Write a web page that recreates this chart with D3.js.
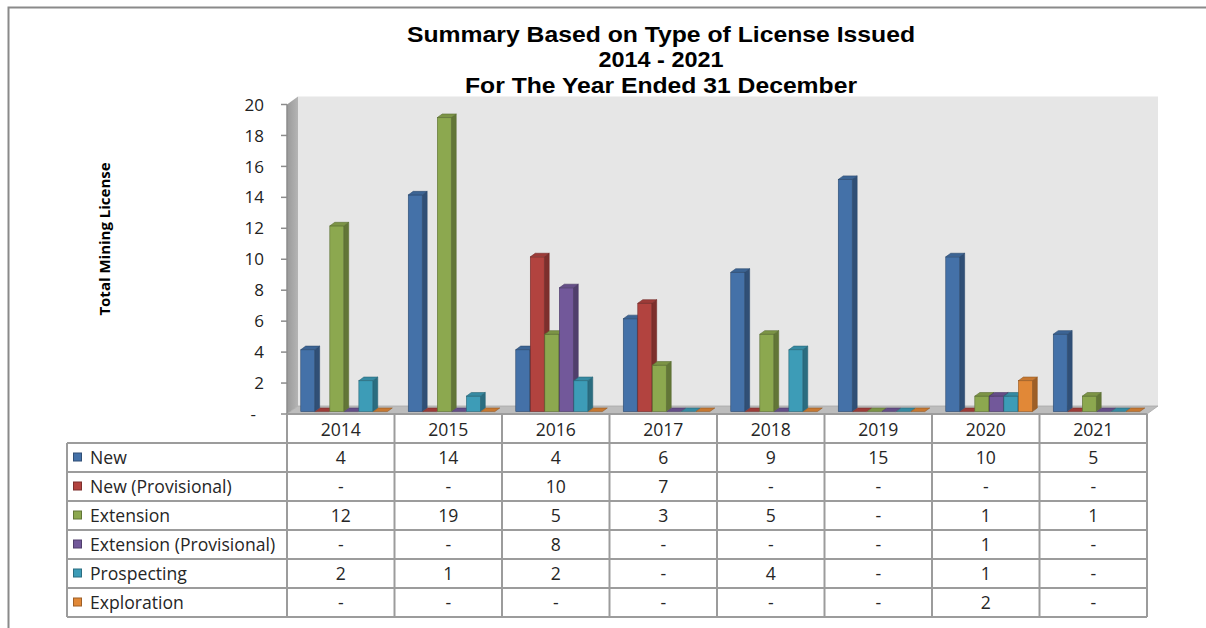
<!DOCTYPE html>
<html>
<head>
<meta charset="utf-8">
<script src="https://cdn.jsdelivr.net/npm/d3@7"></script>
<style>
  html, body { margin: 0; padding: 0; background: #fff; }
  svg { display: block; }
</style>
</head>
<body>
<svg id="chart" width="1206" height="628"></svg>
<script>
// Licence counts per year, one array per licence type
const years = ["2014", "2015", "2016", "2017", "2018", "2019", "2020", "2021"];
const seriesNames = ["New", "New (Provisional)", "Extension", "Extension (Provisional)", "Prospecting", "Exploration"];
const newLicence        = [4, 14, 4, 6, 9, 15, 10, 5];
const newProvisional    = [0, 0, 10, 7, 0, 0, 0, 0];
const extension         = [12, 19, 5, 3, 5, 0, 1, 1];
const extProvisional    = [0, 0, 8, 0, 0, 0, 1, 0];
const prospecting       = [2, 1, 2, 0, 4, 0, 1, 0];
const exploration       = [0, 0, 0, 0, 0, 0, 2, 0];
const yTicks = [0, 2, 4, 6, 8, 10, 12, 14, 16, 18, 20];
const titleLines = ["Summary Based on Type of License Issued", "2014 - 2021", "For The Year Ended 31 December"];
const titleWidths = [508, 125, 392];
const seriesColors = ["#4471A8", "#B2433F", "#8CA84F", "#72589A", "#3D9CB7", "#E18837"];

const seriesValues = [newLicence, newProvisional, extension, extProvisional, prospecting, exploration];

const svg = d3.select("#chart");
const fmt = v => (v === 0 ? "-" : String(v));
const bodyFont = "'Open Sans', Lato, sans-serif";
const tableSize = 17.6;

// Front plane of the 3-D plot and the depth offset to the back wall
const plotLeft = 287, plotRight = 1147;
const DX = 11, DY = -8;
const x = d3.scaleBand().domain(years).range([plotLeft, plotRight]);
const inner = d3.scaleBand().domain(seriesNames).range([0, x.bandwidth()])
  .paddingOuter(0.72).paddingInner(0.04);
const y = d3.scaleLinear().domain([0, 20]).range([414, 104.5]);

// Outer frame
svg.append("path")
  .attr("d", `M8.5,628 L8.5,7.5 L1206,7.5`)
  .attr("fill", "none").attr("stroke", "#8a8a8a").attr("stroke-width", 2);

// Title
svg.selectAll("text.title").data(titleLines).join("text").attr("class", "title")
  .attr("x", 661).attr("y", (d, i) => 41.5 + i * 25.8)
  .attr("text-anchor", "middle")
  .attr("font-family", "'Liberation Sans', Arial, sans-serif")
  .attr("font-weight", "bold").attr("font-size", 22).attr("fill", "#000")
  .attr("textLength", (d, i) => titleWidths[i])
  .attr("lengthAdjust", "spacingAndGlyphs")
  .text(d => d);

const defs = svg.append("defs");
const wallGrad = defs.append("linearGradient").attr("id", "sideWall")
  .attr("x1", "0").attr("x2", "1").attr("y1", "0").attr("y2", "0");
wallGrad.append("stop").attr("offset", "0").attr("stop-color", "#9a9a9a");
wallGrad.append("stop").attr("offset", "1").attr("stop-color", "#b4b4b4");

// Back wall
svg.append("rect")
  .attr("x", plotLeft + DX).attr("y", y(20) + DY)
  .attr("width", plotRight - plotLeft).attr("height", y(0) - y(20))
  .attr("fill", "#e6e6e6");

// Side wall
svg.append("polygon")
  .attr("points", [[plotLeft, y(20)], [plotLeft + DX, y(20) + DY], [plotLeft + DX, y(0) + DY], [plotLeft, y(0)]].join(" "))
  .attr("fill", "url(#sideWall)");

// Floor
svg.append("polygon")
  .attr("points", [[plotLeft, y(0)], [plotRight, y(0)], [plotRight + DX, y(0) + DY], [plotLeft + DX, y(0) + DY]].join(" "))
  .attr("fill", "#bdbdbd").attr("stroke", "#a8a8a8").attr("stroke-width", 0.8);

// Value axis
const axisG = svg.append("g");
axisG.append("line")
  .attr("x1", plotLeft).attr("x2", plotLeft).attr("y1", y(20)).attr("y2", y(0))
  .attr("stroke", "#8c8c8c").attr("stroke-width", 1.5);
axisG.selectAll("line.tick").data(yTicks).join("line").attr("class", "tick")
  .attr("x1", plotLeft - 6).attr("x2", plotLeft).attr("y1", d => y(d)).attr("y2", d => y(d))
  .attr("stroke", "#8c8c8c").attr("stroke-width", 1.5);
axisG.selectAll("text").data(yTicks).join("text")
  .attr("x", d => (d === 0 ? 256 : 264)).attr("y", d => y(d)).attr("dy", "0.36em")
  .attr("text-anchor", "end")
  .attr("font-family", bodyFont).attr("font-size", 17).attr("fill", "#222")
  .text(d => fmt(d));

// Axis title
svg.append("text")
  .attr("transform", "translate(110,239) rotate(-90)")
  .attr("text-anchor", "middle")
  .attr("font-family", bodyFont).attr("font-weight", "bold")
  .attr("font-size", 15).attr("fill", "#000")
  .text("Total Mining License");

// 3-D columns: front face, right side and top, drawn left to right
const barFront = 0.3, barDepth = 0.45;
const ox = DX * barFront, oy = DY * barFront;
const bx = DX * barDepth, by = DY * barDepth;
const barsG = svg.append("g");
years.forEach((yr, ci) => {
  seriesNames.forEach((name, si) => {
    const v = seriesValues[si][ci];
    const c = d3.color(seriesColors[si]);
    const x0 = x(yr) + inner(name) + ox;
    const x1 = x0 + inner.bandwidth();
    const yb = y(0) + oy;
    const yt = y(v) + oy;
    const g = barsG.append("g");
    const edge = c.darker(1.2).formatHex();
    if (v > 0) {
      g.append("polygon")
        .attr("points", [[x1, yt], [x1 + bx, yt + by], [x1 + bx, yb + by], [x1, yb]].join(" "))
        .attr("fill", c.darker(1.0).formatHex()).attr("stroke", edge).attr("stroke-width", 0.6);
      g.append("rect")
        .attr("x", x0).attr("y", yt).attr("width", x1 - x0).attr("height", yb - yt)
        .attr("fill", c.formatHex()).attr("stroke", edge).attr("stroke-width", 0.6);
    }
    g.append("polygon")
      .attr("points", [[x0, yt], [x1, yt], [x1 + bx, yt + by], [x0 + bx, yt + by]].join(" "))
      .attr("fill", c.darker(0.35).formatHex()).attr("stroke", edge).attr("stroke-width", 0.6);
  });
});

// Data table under the plot
const tableLeft = 67, headTop = y(0), rowTop = 443, rowH = 29;
const tableBottom = rowTop + rowH * seriesNames.length;
const tG = svg.append("g");
const gridColor = "#9c9c9c";
// horizontal rules
tG.append("line").attr("x1", plotLeft).attr("x2", plotRight).attr("y1", headTop).attr("y2", headTop)
  .attr("stroke", gridColor).attr("stroke-width", 2);
d3.range(seriesNames.length + 1).forEach(i => {
  tG.append("line").attr("x1", tableLeft).attr("x2", plotRight)
    .attr("y1", rowTop + i * rowH).attr("y2", rowTop + i * rowH)
    .attr("stroke", gridColor).attr("stroke-width", 2);
});
// vertical rules
tG.append("line").attr("x1", tableLeft).attr("x2", tableLeft).attr("y1", rowTop).attr("y2", tableBottom)
  .attr("stroke", gridColor).attr("stroke-width", 2);
years.concat(["end"]).forEach((yr, i) => {
  const xx = i < years.length ? x(yr) : plotRight;
  tG.append("line").attr("x1", xx).attr("x2", xx).attr("y1", headTop).attr("y2", tableBottom)
    .attr("stroke", gridColor).attr("stroke-width", 2);
});
// column headers
tG.selectAll("text.year").data(years).join("text").attr("class", "year")
  .attr("x", d => x(d) + x.bandwidth() / 2).attr("y", (headTop + rowTop) / 2 + 1).attr("dy", "0.36em")
  .attr("text-anchor", "middle").attr("font-family", bodyFont).attr("font-size", tableSize).attr("fill", "#262626")
  .text(d => d);
// legend keys and row labels
seriesNames.forEach((name, si) => {
  const cy = rowTop + si * rowH + rowH / 2;
  tG.append("rect").attr("x", 73.5).attr("y", cy - 4.5).attr("width", 8).attr("height", 8)
    .attr("fill", seriesColors[si]).attr("stroke", d3.color(seriesColors[si]).darker(1).formatHex()).attr("stroke-width", 1);
  tG.append("text").attr("x", 90).attr("y", cy).attr("dy", "0.36em")
    .attr("font-family", bodyFont).attr("font-size", tableSize).attr("fill", "#262626")
    .text(name);
  years.forEach((yr, ci) => {
    tG.append("text").attr("x", x(yr) + x.bandwidth() / 2).attr("y", cy).attr("dy", "0.36em")
      .attr("text-anchor", "middle").attr("font-family", bodyFont).attr("font-size", tableSize).attr("fill", "#262626")
      .text(fmt(seriesValues[si][ci]));
  });
});
</script>
</body>
</html>
